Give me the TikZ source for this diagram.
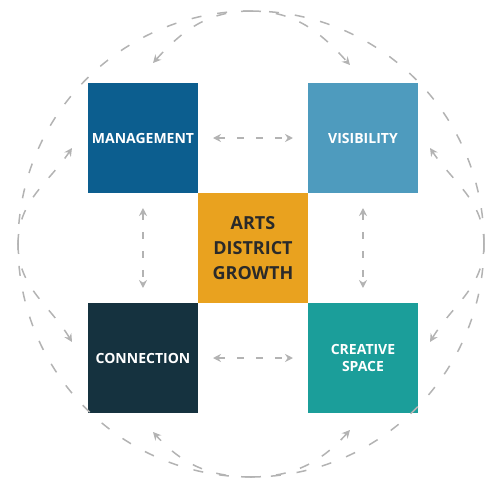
\documentclass[tikz,border=0pt]{standalone}
\usepackage{fontspec}
\setsansfont{Open Sans}
\usetikzlibrary{positioning, arrows.meta}

\definecolor{mgmtblue}{HTML}{0C5E8F}
\definecolor{visblue}{HTML}{4E9BBE}
\definecolor{artsgold}{HTML}{E9A21F}
\definecolor{connnavy}{HTML}{15323F}
\definecolor{createal}{HTML}{1B9E9A}
\definecolor{inkdark}{HTML}{2A2A2A}
\definecolor{dashgray}{HTML}{B3B3B3}

\begin{document}
\begin{tikzpicture}[
            x=1pt, y=1pt,
            tile/.style={minimum size=110pt, inner sep=0pt, outer sep=0pt, text=white, align=center,
                    font=\sffamily\bfseries\fontsize{14}{17}\selectfont},
            link/.style={draw=dashgray, line width=1.6pt, dash pattern=on 7pt off 12pt,
                    {Stealth[length=8pt,width=8pt]}-{Stealth[length=8pt,width=8pt]},
                    shorten <=15pt, shorten >=15pt},
            swing/.style={draw=dashgray, line width=1.5pt, dash pattern=on 10pt off 15pt,
                    -{Stealth[length=8pt,width=8pt]}}
        ]
        \useasboundingbox (-253,-235) rectangle (235,248);

        % Centre tile
        \node[tile, fill=artsgold, text=inkdark, font=\sffamily\bfseries\fontsize{18}{25}\selectfont]
            (arts) {ARTS\\DISTRICT\\GROWTH};

        % Corner tiles
        \node[tile, fill=mgmtblue, above left=0pt and 0pt of arts] (management) {MANAGEMENT};
        \node[tile, fill=visblue, above right=0pt and 0pt of arts] (visibility) {VISIBILITY};
        \node[tile, fill=connnavy, below left=0pt and 0pt of arts] (connection) {CONNECTION};
        \node[tile, fill=createal, below right=0pt and 0pt of arts] (creative) {CREATIVE\\SPACE};

        % Outer ring
        \node[circle, draw=dashgray, line width=1.5pt, dash pattern=on 10pt off 16pt,
            minimum size=466pt, inner sep=0pt, outer sep=0pt] (ring) at (-2,4) {};

        % Links between neighbouring tiles
        \draw[link] (management) -- (visibility);
        \draw[link] (management) -- (connection);
        \draw[link] (visibility) -- (creative);
        \draw[link] (connection) -- (creative);

        % Ends of the arcs near the tiles
        \coordinate (topL) at (-100,185);
        \coordinate (topR) at (97,183);
        \coordinate (leftU) at (-181,100);
        \coordinate (leftD) at (-181,-94);
        \coordinate (rightU) at (177,100);
        \coordinate (rightD) at (177,-94);
        \coordinate (botL) at (-100,-184);
        \coordinate (botR) at (97,-182);

        % Arcs leaving the ring
        \draw[swing] (ring.north) to[out=180, in=48] (topL);
        \draw[swing] (ring.north) to[out=0, in=132] (topR);
        \draw[swing] (ring.west) to[out=90, in=236] (leftU);
        \draw[swing] (ring.west) to[out=270, in=121] (leftD);
        \draw[swing] (ring.east) to[out=90, in=304] (rightU);
        \draw[swing] (ring.east) to[out=270, in=59] (rightD);
        \draw[swing] (ring.south) to[out=180, in=312] (botL);
        \draw[swing] (ring.south) to[out=0, in=228] (botR);
    \end{tikzpicture}
\end{document}
